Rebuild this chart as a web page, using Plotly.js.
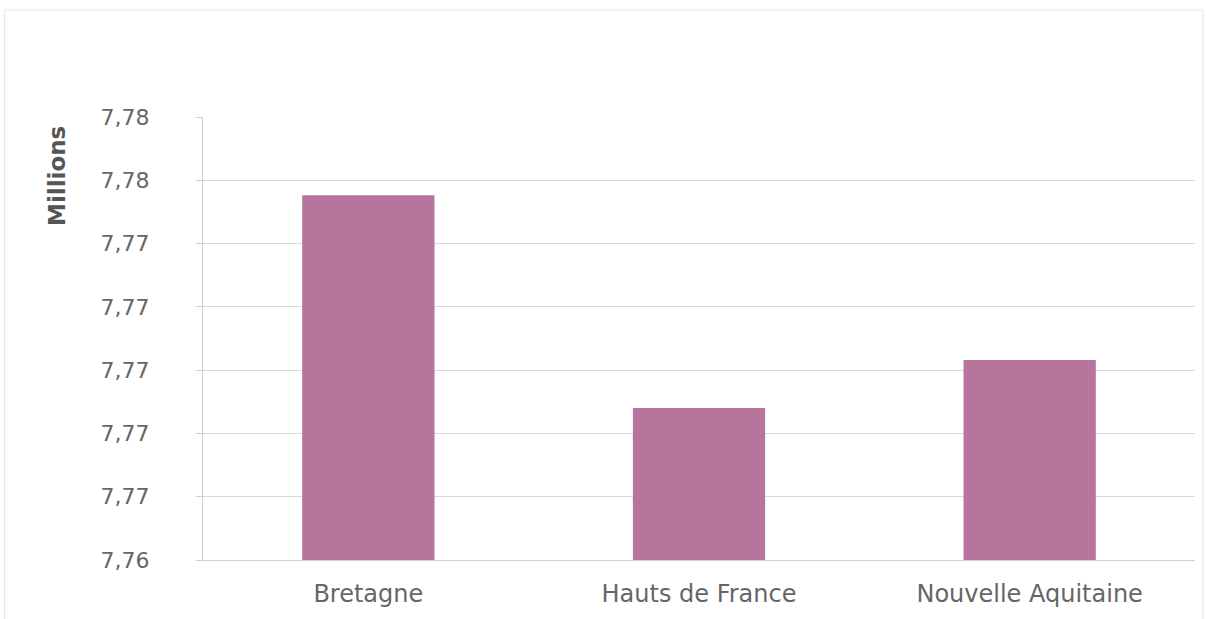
<!DOCTYPE html>
<html><head><meta charset="utf-8">
<script src="https://cdn.plot.ly/plotly-3.0.1.min.js"></script>
<style>html,body{margin:0;padding:0;background:#fff;}#chart{width:1206px;height:619px;}</style>
</head><body><div id="chart"></div>
<script>
const categories = ["Bretagne", "Hauts de France", "Nouvelle Aquitaine"];
const values = [7.77553, 7.7688, 7.77032];
const yTick0 = 7.764;
const yDtick = 0.002;
const yRange = [7.764, 7.778];

const data = [{
  type: 'bar',
  x: categories,
  y: values,
  marker: {color: '#b7749d'},
  hoverinfo: 'x+y'
}];

const layout = {
  width: 1206, height: 619,
  margin: {l: 203, r: 11, t: 117, b: 59},
  paper_bgcolor: '#ffffff', plot_bgcolor: '#ffffff',
  separators: ', ',
  bargap: 0.6,
  showlegend: false,
  font: {family: 'DejaVu Sans, Verdana, sans-serif', color: '#666666', size: 22},
  xaxis: {
    type: 'category',
    showgrid: false,
    showline: true, linecolor: '#cfcfcf', linewidth: 1,
    ticks: '', tickfont: {size: 24, color: '#666666'},
    ticklabelstandoff: 12
  },
  yaxis: {
    range: yRange, tick0: yTick0, dtick: yDtick, tickmode: 'linear',
    tickformat: '.2f',
    showgrid: true, gridcolor: '#d9d9d9', gridwidth: 1,
    showline: true, linecolor: '#cfcfcf', linewidth: 1,
    ticks: 'outside', ticklen: 6, tickcolor: '#cfcfcf',
    tickfont: {size: 22, color: '#666666'},
    ticklabelstandoff: 42,
    zeroline: false
  },
  annotations: [{
    text: '<b>Millions</b>', textangle: -90,
    xref: 'paper', yref: 'paper',
    x: -0.1472, y: 0.8668, xanchor: 'center', yanchor: 'middle',
    showarrow: false,
    font: {size: 23, color: '#555555'}
  }],
  shapes: [{
    type: 'rect', xref: 'paper', yref: 'paper',
    x0: -0.2, x1: 1.008, y0: -0.2, y1: 1.2415,
    line: {color: '#e6e6e6', width: 1}
  }]
};

Plotly.newPlot('chart', data, layout, {displayModeBar: false, staticPlot: true});
</script></body></html>
